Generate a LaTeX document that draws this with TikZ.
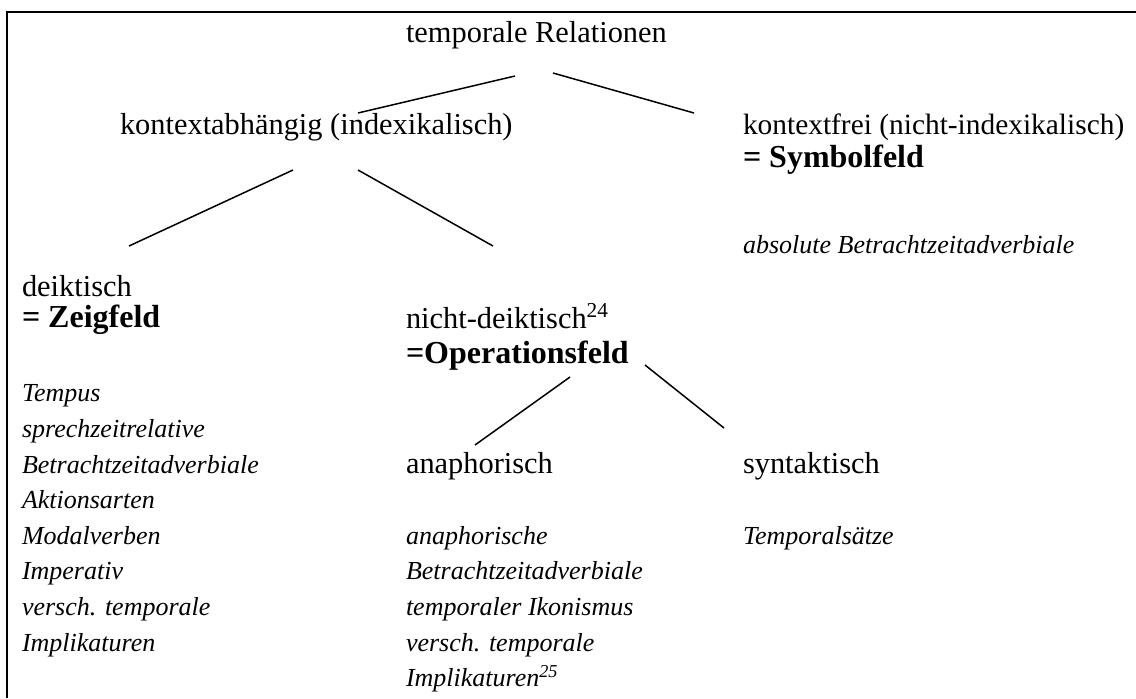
\documentclass[tikz,border=0pt]{standalone}
\usepackage{fontspec}
\setmainfont{Liberation Serif}
\begin{document}
\begin{tikzpicture}[x=0.5pt,y=-0.5pt,
  txt/.style={anchor=base west,inner sep=0pt,outer sep=0pt,align=left,font=\fontsize{15.2}{17.8}\selectfont},
  bld/.style={txt,font=\fontsize{16}{17.8}\selectfont\bfseries},
  itl/.style={txt,font=\fontsize{13}{17.8}\selectfont\itshape},
  conn/.style={line width=0.75pt},
  frame/.style={line width=1pt}]
\useasboundingbox (0,0) rectangle (1136,698);
\coordinate (ftl) at (7,12);
\coordinate (ftr) at (1136,12);
\coordinate (fbl) at (7,698);
\draw[frame] (fbl) -- (ftl) -- (ftr);

\node[txt] (root) at (406,42) {temporale Relationen};
\node[txt] (kab) at (120,134) {kontextabhängig (indexikalisch)};
\node[txt,font=\fontsize{14.7}{17.8}\selectfont] (kfr) at (743,134) {kontextfrei (nicht-indexikalisch)};
\node[bld] (sym) at (743,167) {= Symbolfeld};
\node[itl] (abs) at (743,253) {absolute Betrachtzeitadverbiale};
\node[txt] (dei) at (22,296) {deiktisch};
\node[bld] (zei) at (22,327) {= Zeigfeld};
\node[txt] (ndei) at (406,328) {nicht-deiktisch\textsuperscript{24}};
\node[bld] (ops) at (406,363) {=Operationsfeld};
% multi-line nodes: anchor at baseline of last line
\node[itl] (llist) at (22,651) {Tempus\\sprechzeitrelative\\Betrachtzeitadverbiale\\Aktionsarten\\Modalverben\\Imperativ\\versch. temporale\\Implikaturen};
\node[txt] (ana) at (406,473) {anaphorisch};
\node[txt] (syn) at (743,473) {syntaktisch};
\node[itl] (mlist) at (406,686.6) {anaphorische\\Betrachtzeitadverbiale\\temporaler Ikonismus\\versch. temporale\\Implikaturen\textsuperscript{25}};
\node[itl] (tsa) at (743,544) {Temporalsätze};

\coordinate (c1a) at (358,113); \coordinate (c1b) at (515,76);
\coordinate (c2a) at (553,73);  \coordinate (c2b) at (694,113);
\coordinate (c3a) at (293,170); \coordinate (c3b) at (129,246);
\coordinate (c4a) at (358,170); \coordinate (c4b) at (493,246);
\coordinate (c5a) at (570,377); \coordinate (c5b) at (475,445);
\coordinate (c6a) at (645,365); \coordinate (c6b) at (724,428);
\draw[conn] (c1a) -- (c1b);
\draw[conn] (c2a) -- (c2b);
\draw[conn] (c3a) -- (c3b);
\draw[conn] (c4a) -- (c4b);
\draw[conn] (c5a) -- (c5b);
\draw[conn] (c6a) -- (c6b);
\end{tikzpicture}
\end{document}
